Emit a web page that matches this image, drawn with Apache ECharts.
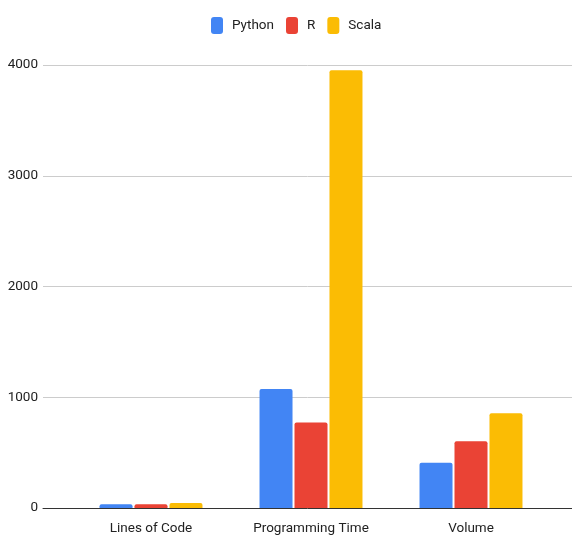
<!DOCTYPE html>
<html>
<head>
<meta charset="utf-8">
<script src="https://cdn.jsdelivr.net/npm/echarts@6/dist/echarts.min.js"></script>
<style>html,body{margin:0;padding:0;background:#fff;}#c{width:572px;height:539px;}</style>
</head>
<body>
<div id="c"></div>
<script>
const categories = ['Lines of Code', 'Programming Time', 'Volume'];
const seriesNames = ['Python', 'R', 'Scala'];
const python = [33, 1075, 409];
const r = [33, 773, 602];
const scala = [45, 3953, 855];
const yTicks = [0, 1000, 2000, 3000, 4000];

const FONT = 'Roboto, "Liberation Sans", Arial, sans-serif';
const FS = 13.5;
const colors = ['#4285F4', '#EA4335', '#FBBC04'];
const values = [python, r, scala];

const chart = echarts.init(document.getElementById('c'), null, {renderer: 'canvas'});
chart.setOption({
  animation: false,
  backgroundColor: '#fff',
  legend: {
    top: 12, left: 206,
    itemWidth: 12, itemHeight: 17, itemGap: 12,
    icon: 'roundRect',
    data: seriesNames,
    textStyle: {fontFamily: FONT, fontSize: FS, color: '#222', padding: [0, 0, 0, 4]}
  },
  grid: [
    {left: 43, right: 0, top: 65, bottom: 31},
    {left: 71, right: 21, top: 65, bottom: 31}
  ],
  xAxis: [
    {gridIndex: 0, type: 'value', min: 0, max: 1,
     axisLine: {show: true, lineStyle: {color: '#333', width: 1}},
     axisTick: {show: false}, axisLabel: {show: false}, splitLine: {show: false}},
    {gridIndex: 1, type: 'category', data: categories,
     axisLine: {show: false}, axisTick: {show: false},
     axisLabel: {interval: 0, fontFamily: FONT, fontSize: FS, color: '#222', margin: 14}}
  ],
  yAxis: [
    {gridIndex: 0, type: 'value', min: yTicks[0], max: yTicks[yTicks.length - 1], interval: 1000,
     axisLine: {show: false}, axisTick: {show: false},
     axisLabel: {fontFamily: FONT, fontSize: FS, color: '#222', margin: 5,
                 formatter: v => String(v)},
     splitLine: {lineStyle: {color: '#cccccc', width: 1}}},
    {gridIndex: 1, type: 'value', min: yTicks[0], max: yTicks[yTicks.length - 1], show: false}
  ],
  series: seriesNames.map((name, i) => ({
    name: name,
    type: 'bar',
    xAxisIndex: 1, yAxisIndex: 1,
    data: values[i],
    barWidth: 33,
    barGap: '6%',
    itemStyle: {color: colors[i], borderRadius: [2, 2, 0, 0]}
  }))
});
</script>
</body>
</html>
